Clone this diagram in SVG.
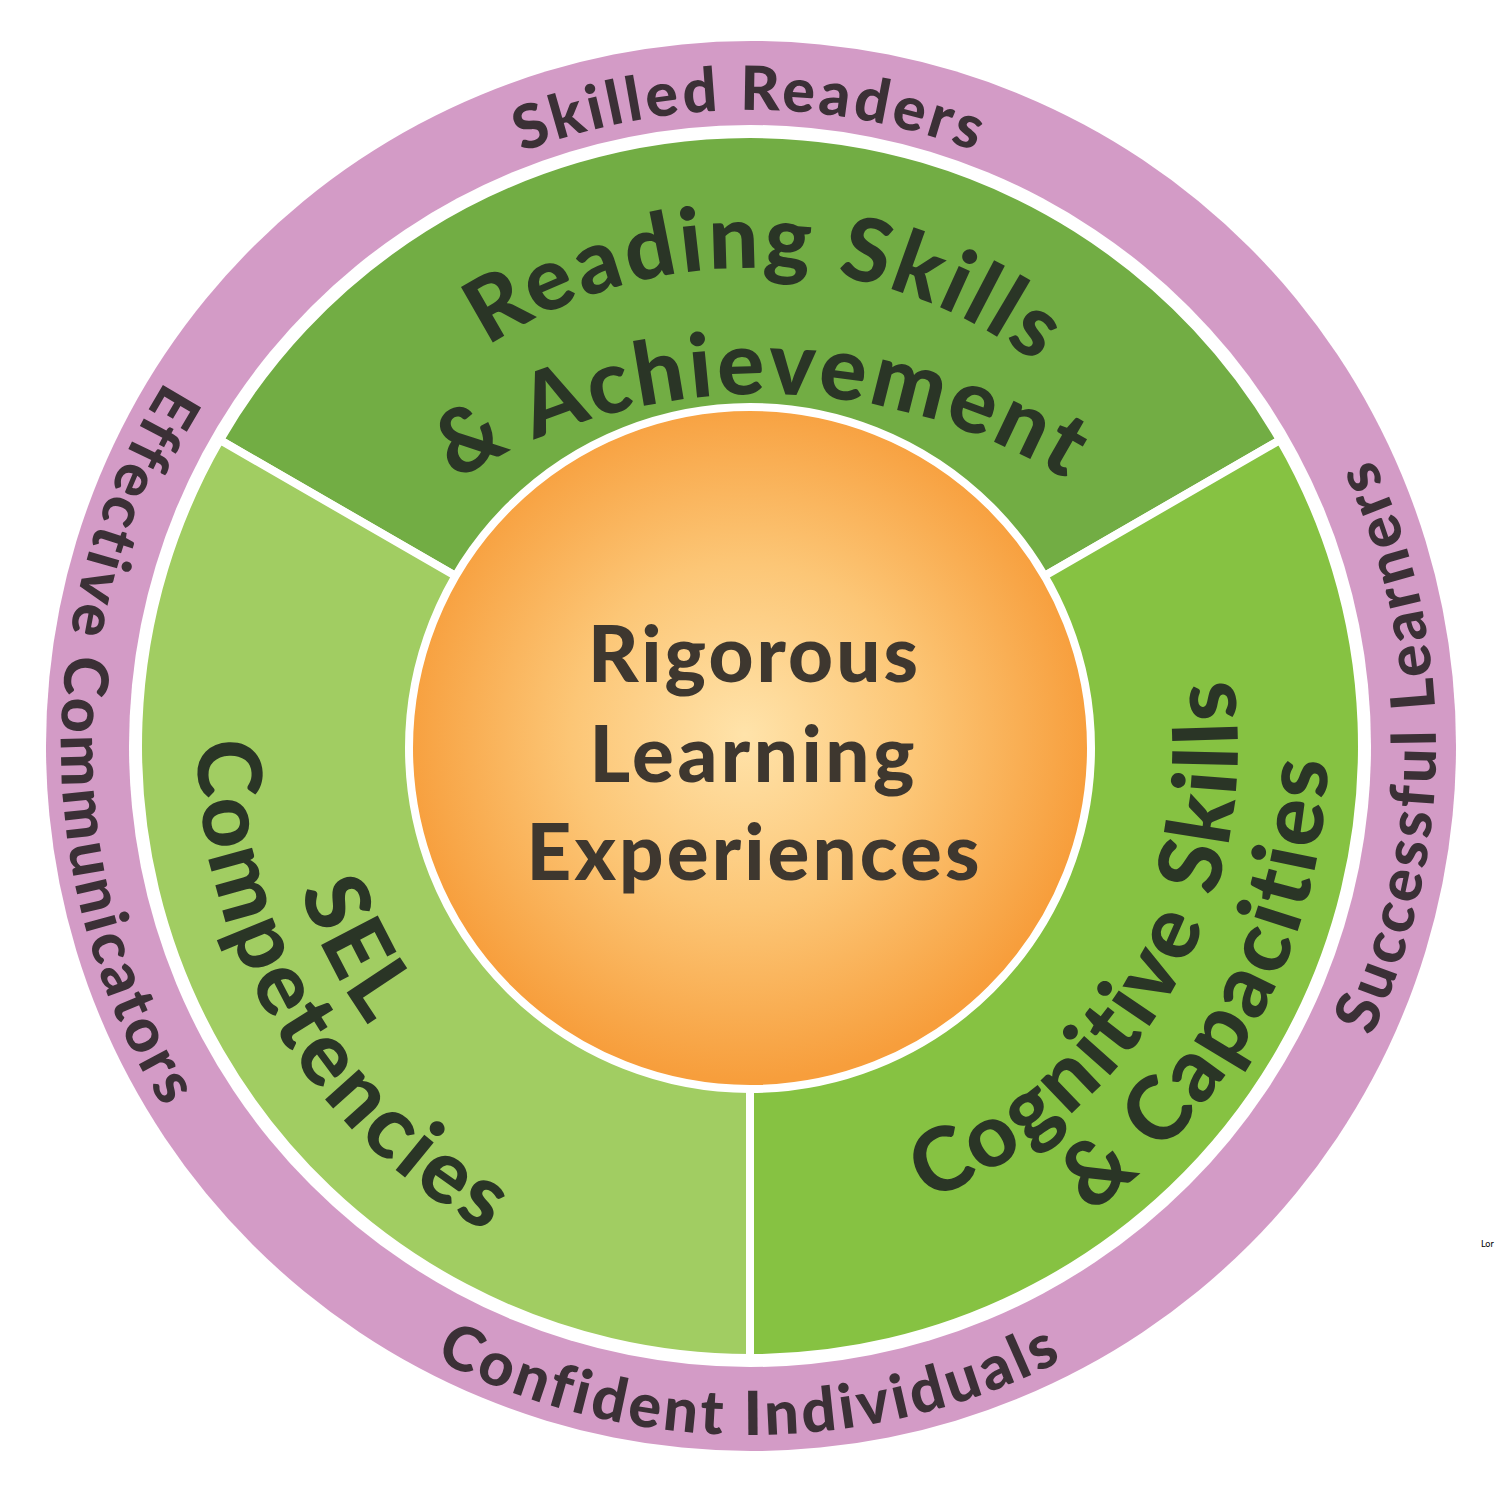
<svg xmlns="http://www.w3.org/2000/svg" width="1500" height="1500" viewBox="0 0 1500 1500">
<style>
.pink{font-family:Lato,"Open Sans","Liberation Sans",sans-serif;font-weight:900;font-size:61px;fill:#3b3036;letter-spacing:3.5px}
.sec{font-family:Lato,"Open Sans","Liberation Sans",sans-serif;font-weight:900;font-size:88px;fill:#2a3526;letter-spacing:3.5px}
.ctr{font-family:Lato,"Open Sans","Liberation Sans",sans-serif;font-weight:900;font-size:78px;fill:#3e372f}
</style>
<defs>
<radialGradient id="cg" cx="745" cy="735" r="345" gradientUnits="userSpaceOnUse">
<stop offset="0" stop-color="#ffe3aa"/>
<stop offset="0.5" stop-color="#fcc676"/>
<stop offset="1" stop-color="#f79e3c"/>
</radialGradient>
<path id="pSkilled" d="M114 746 A636 636 0 0 1 1386 746"/>
<path id="pConf" d="M61 746 A689 689 0 0 0 1439 746"/>
<path id="pEff" d="M750 57 A689 689 0 0 0 750 1435"/>
<path id="pSucc" d="M750 1432 A686 686 0 0 0 750 60"/>
<path id="pRead" d="M272 746 A478 478 0 0 1 1228 746"/>
<path id="pAch" d="M179 977 A583 583 0 0 1 1345 977"/>
<path id="pSEL" d="M529.7 317.4 A482 482 0 0 0 970.3 1174.6"/>
<path id="pComp" d="M466.2 267.9 A556 556 0 0 0 1033.8 1224.1"/>
<path id="pCog" d="M504.3 1167.7 A488 488 0 0 0 995.7 324.3"/>
<path id="pCap" d="M483.1 1258.7 A578 578 0 0 0 1016.9 233.3"/>
</defs>
<rect width="1500" height="1500" fill="#fff"/>
<g id="outer-ring">
<circle cx="751" cy="746" r="705" fill="#d39bc6"/>
<circle cx="750" cy="746" r="621" fill="#fff"/>
<text class="pink"><textPath href="#pSkilled" startOffset="50%" text-anchor="middle">Skilled Readers</textPath></text>
<text class="pink"><textPath href="#pConf" startOffset="50%" text-anchor="middle">Confident Individuals</textPath></text>
<text class="pink"><textPath href="#pEff" startOffset="50%" text-anchor="middle">Effective Communicators</textPath></text>
<text class="pink"><textPath href="#pSucc" startOffset="50%" text-anchor="middle">Successful Learners</textPath></text>
</g>
<g id="reading">
<path d="M750 746 L220 440 A612 612 0 0 1 1280 440 Z" fill="#72ad44" stroke="#fff" stroke-width="8" stroke-linejoin="round"/>
<text class="sec"><textPath href="#pRead" startOffset="767" text-anchor="middle">Reading Skills</textPath></text>
<text class="sec"><textPath href="#pAch" startOffset="50%" text-anchor="middle">&amp; Achievement</textPath></text>
</g>
<g id="cognitive">
<path d="M750 746 L1280 440 A612 612 0 0 1 750 1358 Z" fill="#86c242" stroke="#fff" stroke-width="8" stroke-linejoin="round"/>
<text class="sec"><textPath href="#pCog" startOffset="50%" text-anchor="middle">Cognitive Skills</textPath></text>
<text class="sec"><textPath href="#pCap" startOffset="50%" text-anchor="middle">&amp; Capacities</textPath></text>
</g>
<g id="sel">
<path d="M750 746 L750 1358 A612 612 0 0 1 220 440 Z" fill="#a1cd62" stroke="#fff" stroke-width="8" stroke-linejoin="round"/>
<text class="sec"><textPath href="#pSEL" startOffset="50%" text-anchor="middle">SEL</textPath></text>
<text class="sec"><textPath href="#pComp" startOffset="50%" text-anchor="middle">Competencies</textPath></text>
</g>
<g id="center">
<circle cx="750" cy="748" r="341" fill="url(#cg)" stroke="#fff" stroke-width="8"/>
<text class="ctr" x="753" y="682" text-anchor="middle" textLength="330" lengthAdjust="spacing">Rigorous</text>
<text class="ctr" x="752" y="782" text-anchor="middle" textLength="325" lengthAdjust="spacing">Learning</text>
<text class="ctr" x="753" y="880" text-anchor="middle" textLength="453" lengthAdjust="spacing">Experiences</text>
</g>
<g id="connectors"/>
<text x="1481" y="1247" font-family="Lato,'Liberation Sans',sans-serif" font-size="9" fill="#000">Lor</text>
</svg>
